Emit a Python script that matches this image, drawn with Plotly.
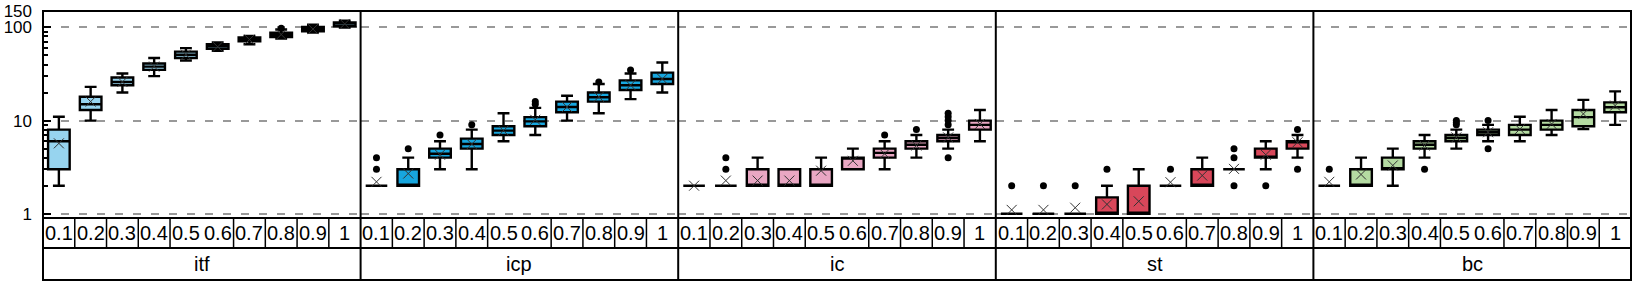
import math
import plotly.graph_objects as go
from plotly.subplots import make_subplots

cats = ["0.1", "0.2", "0.3", "0.4", "0.5", "0.6", "0.7", "0.8", "0.9", "1"]
panels = ["itf", "icp", "ic", "st", "bc"]
colors = ["#97D4EF", "#17A6DE", "#E9A7C3", "#D8475A", "#B4DAA2"]

# itf
itf_lo = [2, 10, 20, 30, 44, 56, 66, 76, 88, 100]
itf_q1 = [3, 13, 24, 35, 47, 59, 71, 79, 91, 103]
itf_med = [6, 15, 26, 38, 51, 63, 74, 84, 95, 110]
itf_q3 = [8, 18, 29, 41, 55, 66, 78, 88, 101, 113]
itf_hi = [11, 23, 32, 47, 60, 69, 81, 95, 107, 118]
itf_mean = [5.7, 16, 26, 38, 51, 62, 74, 84, 96, 109]
itf_out_x = ["0.8"]
itf_out_y = [98]

# icp
icp_lo = [2, 2, 3, 3, 6, 7, 10, 12, 17, 20]
icp_q1 = [2, 2, 4, 5, 7, 8.7, 12.3, 16, 21.3, 24.7]
icp_med = [2, 2, 4.4, 5.6, 7.8, 9.8, 14, 17.8, 24, 28]
icp_q3 = [2, 3, 5, 6.4, 8.7, 10.9, 16, 20, 27, 32.7]
icp_hi = [2, 4, 6, 8, 12, 13.7, 18.5, 24.7, 32, 42]
icp_mean = [2.2, 2.7, 4.3, 5.6, 7.8, 10.2, 14, 18, 24, 28]
icp_out_x = ["0.1", "0.1", "0.2", "0.3", "0.4", "0.6", "0.6", "0.8", "0.9"]
icp_out_y = [3, 4, 5, 7, 9, 15, 16, 26, 35]

# ic
ic_lo = [2, 2, 2, 2, 2, 3, 3, 4, 5, 6]
ic_q1 = [2, 2, 2, 2, 2, 3, 4, 5, 6, 8]
ic_med = [2, 2, 2, 2, 2, 4, 4.5, 5.5, 6.5, 9]
ic_q3 = [2, 2, 3, 3, 3, 4, 5, 6, 7, 10]
ic_hi = [2, 2, 4, 3, 4, 5, 6, 7, 8, 13]
ic_mean = [2, 2.27, 2.27, 2.27, 2.9, 3.7, 4.4, 5.4, 6.6, 9.2]
ic_out_x = ["0.2", "0.2", "0.7", "0.8", "0.9", "0.9", "0.9", "0.9", "0.9"]
ic_out_y = [3, 4, 7, 8, 4, 9, 10, 11, 12]

# st
st_lo = [1, 1, 1, 1, 1, 2, 2, 3, 3, 4]
st_q1 = [1, 1, 1, 1, 1, 2, 2, 3, 4, 5]
st_med = [1, 1, 1, 1, 1, 2, 2, 3, 4, 6]
st_q3 = [1, 1, 1, 1.5, 2, 2, 3, 3, 5, 6]
st_hi = [1, 1, 1, 2, 3, 2, 4, 3, 6, 7]
st_mean = [1.1, 1.1, 1.16, 1.26, 1.36, 2.18, 2.57, 3.03, 4.3, 5.85]
st_out_x = ["0.1", "0.2", "0.3", "0.4", "0.6", "0.8", "0.8", "0.8", "0.9", "1", "1"]
st_out_y = [2, 2, 2, 3, 3, 2, 4, 5, 2, 3, 8]

# bc
bc_lo = [2, 2, 2, 4, 5, 6, 6, 7, 8.1, 9]
bc_q1 = [2, 2, 3, 5, 6, 7, 7, 8, 8.7, 12.3]
bc_med = [2, 2, 3, 5.5, 6.5, 7.5, 8, 9, 10.9, 13.9]
bc_q3 = [2, 3, 4, 6, 7, 8, 9, 10, 13, 15.7]
bc_hi = [2, 4, 5, 7, 8, 9, 11, 13, 16.7, 20.6]
bc_mean = [2.2, 2.64, 3.3, 5.4, 6.6, 7.5, 8.1, 9.2, 11.8, 14.5]
bc_out_x = ["0.1", "0.4", "0.5", "0.5", "0.5", "0.6", "0.6"]
bc_out_y = [3, 3, 9, 9.5, 10, 5, 10]

data = [
    (itf_lo, itf_q1, itf_med, itf_q3, itf_hi, itf_mean, itf_out_x, itf_out_y),
    (icp_lo, icp_q1, icp_med, icp_q3, icp_hi, icp_mean, icp_out_x, icp_out_y),
    (ic_lo, ic_q1, ic_med, ic_q3, ic_hi, ic_mean, ic_out_x, ic_out_y),
    (st_lo, st_q1, st_med, st_q3, st_hi, st_mean, st_out_x, st_out_y),
    (bc_lo, bc_q1, bc_med, bc_q3, bc_hi, bc_mean, bc_out_x, bc_out_y),
]

W, H = 1635, 284
ML, MR, MT, MB = 43, 4, 11, 66
PH = H - MT - MB
FONT = "Liberation Sans, Arial, sans-serif"

fig = make_subplots(rows=1, cols=5, shared_yaxes=True, horizontal_spacing=0)

for i, (lo, q1, med, q3, hi, mean, ox, oy) in enumerate(data):
    col = i + 1
    fig.add_trace(go.Box(
        x=cats, q1=q1, median=med, q3=q3, lowerfence=lo, upperfence=hi,
        fillcolor=colors[i], line=dict(color="black", width=2.4),
        width=0.68, whiskerwidth=0.55, boxpoints=False, showlegend=False,
        hoverinfo="skip"), row=1, col=col)
    fig.add_trace(go.Scatter(
        x=cats, y=mean, mode="markers", showlegend=False, hoverinfo="skip",
        marker=dict(symbol="x-thin", size=10, line=dict(width=1, color="#333333"))),
        row=1, col=col)
    fig.add_trace(go.Scatter(
        x=ox, y=oy, mode="markers", showlegend=False, hoverinfo="skip",
        marker=dict(symbol="circle", size=7, color="black")), row=1, col=col)

minor_vals = [2, 3, 4, 5, 6, 7, 8, 9, 20, 30, 40, 50, 60, 70, 80, 90]
for i in range(5):
    fig.update_xaxes(type="category", categoryorder="array", categoryarray=cats,
                     range=[-0.5, 9.5], showticklabels=False, ticks="", automargin=False,
                     showgrid=False, zeroline=False, showline=False, row=1, col=i + 1)
    yopts = dict(type="log", range=[math.log10(0.9), math.log10(150) + 0.0005],
                 automargin=False,
                 tickvals=[1, 10, 100, 150], ticktext=["1", "10", "100", "150"],
                 showgrid=True, gridcolor="#999999", gridwidth=2, griddash="8px,10px",
                 zeroline=False, showline=False)
    if i == 0:
        yopts.update(ticks="inside", ticklen=8, tickwidth=1.5, tickcolor="black",
                     ticklabelstandoff=10,
                     tickfont=dict(family=FONT, size=17, color="black"),
                     minor=dict(tickvals=minor_vals, ticks="inside", ticklen=5,
                                tickwidth=1.5, tickcolor="black", showgrid=False))
    else:
        yopts.update(showticklabels=False, ticks="")
    fig.update_yaxes(**yopts, row=1, col=i + 1)

y_tick_row = -30 / PH
y_bottom = -62 / PH
shapes = []
shapes.append(dict(type="rect", xref="paper", yref="paper", x0=0, x1=1, y0=y_bottom, y1=1,
                   line=dict(color="black", width=2)))
for yv in [0, y_tick_row]:
    shapes.append(dict(type="line", xref="paper", yref="paper", x0=0, x1=1, y0=yv, y1=yv,
                       line=dict(color="black", width=2)))
for p in range(1, 5):
    shapes.append(dict(type="line", xref="paper", yref="paper", x0=p / 5, x1=p / 5,
                       y0=y_bottom, y1=1, line=dict(color="black", width=2)))
for k in range(1, 50):
    if k % 5 == 0:
        continue
    shapes.append(dict(type="line", xref="paper", yref="paper", x0=k / 50, x1=k / 50,
                       y0=y_tick_row, y1=0, line=dict(color="black", width=1.5)))

annotations = []
for i, name in enumerate(panels):
    xr = "x" if i == 0 else f"x{i + 1}"
    for j, c in enumerate(cats):
        annotations.append(dict(x=(j + 0.5) / len(cats), y=-15 / PH, xref=f"{xr} domain",
                                yref="paper", text=c,
                                showarrow=False, xanchor="center", yanchor="middle",
                                font=dict(family=FONT, size=20, color="black")))
    annotations.append(dict(x=0.5, y=-46 / PH, xref=f"{xr} domain", yref="paper", text=name,
                            showarrow=False, xanchor="center", yanchor="middle",
                            font=dict(family=FONT, size=20, color="black")))

fig.update_layout(width=W, height=H, margin=dict(l=ML, r=MR, t=MT, b=MB, autoexpand=False),
                  plot_bgcolor="white", paper_bgcolor="white",
                  shapes=shapes, annotations=annotations, showlegend=False)

fig.write_html("out.html", config={"displayModeBar": False},
               post_script="document.body.style.margin='0px';document.body.style.overflow='hidden';")
